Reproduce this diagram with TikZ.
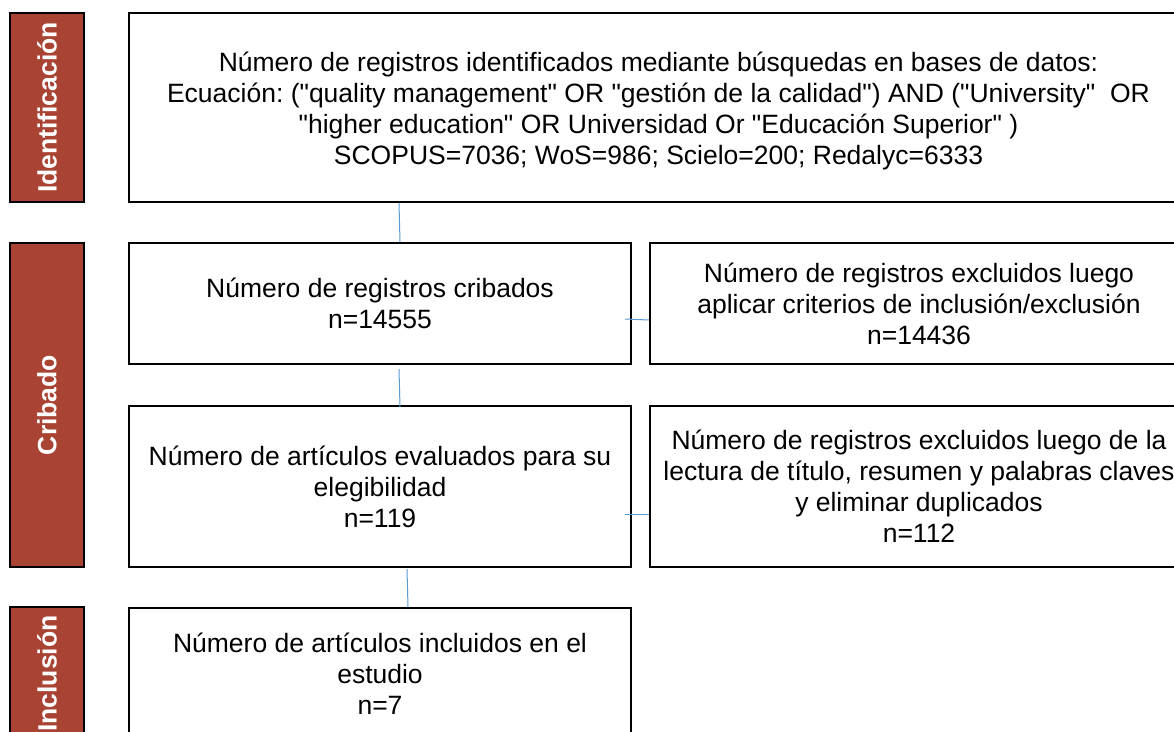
\documentclass[tikz,border=0pt]{standalone}
\usepackage{fontspec}
\setmainfont{Liberation Sans}[Ligatures=TeXOff]
\definecolor{barred}{HTML}{A94434}
\definecolor{linkblue}{HTML}{5B9BD5}
\frenchspacing
\begin{document}
\begin{tikzpicture}[x=1pt,y=-1pt,
  box/.style={draw=black, line width=2pt, fill=white, inner sep=0pt, align=center,
    font=\fontsize{26.5}{31}\selectfont},
  phase/.style={draw=black, line width=2pt, fill=barred, inner sep=0pt, minimum width=74pt},
  phasetext/.style={text=white, inner sep=0pt, font=\fontsize{26.5}{31}\selectfont\bfseries, rotate=90},
  link/.style={draw=linkblue, line width=1pt}]
\useasboundingbox (0,0) rectangle (1174,731);
\clip (0,0) rectangle (1174,731);
\fill[white] (0,0) rectangle (1174,731);

% phase bars
\node[phase, minimum height=189pt] (idbar) at (47,107.5) {};
\node[phase, minimum height=324pt] (cribbar) at (47,405) {};
\node[phase, minimum height=133pt] (inclbar) at (47,673.5) {};
\node[phasetext] (idlbl) at (idbar) {Identificación};
\node[phasetext] (criblbl) at (cribbar) {Cribado};
\node[phasetext] (incllbl) at (inclbar) {Inclusión};

% boxes
\node[box, minimum width=1059pt, minimum height=189pt] (top) at (658.5,107.5)
  {\rule{0pt}{27pt}Número de registros identificados mediante búsquedas en bases de datos:\\
   Ecuación: ("quality management" OR "gestión de la calidad") AND ("University"\ \ OR\\
   "higher education" OR Universidad Or "Educación Superior" )\\
   SCOPUS=7036; WoS=986; Scielo=200; Redalyc=6333};
\node[box, minimum width=502pt, minimum height=121pt] (crib) at (380,303.5)
  {Número de registros cribados\\ n=14555};
\node[box, minimum width=538pt, minimum height=121pt] (excl1) at (919,303.5)
  {Número de registros excluidos luego\\ aplicar criterios de inclusión/exclusión\\ n=14436};
\node[box, minimum width=502pt, minimum height=161pt] (eval) at (380,486.5)
  {Número de artículos evaluados para su\\ elegibilidad\\ n=119};
\node[box, minimum width=538pt, minimum height=161pt] (excl2) at (919,486.5)
  {Número de registros excluidos luego de la\\ lectura de título, resumen y palabras claves\\ y eliminar duplicados\\ n=112};
\node[box, minimum width=502pt, minimum height=132pt] (incl) at (380,674)
  {Número de artículos incluidos en el\\ estudio\\ n=7};

% connectors
\draw[link] ([xshift=-259.5pt]top.south) -- ([xshift=20pt]crib.north);
\draw[link] ([xshift=19pt,yshift=-4pt]crib.south) -- ([xshift=20pt,yshift=-2pt]eval.north);
\draw[link] ([xshift=27pt,yshift=-1pt]eval.south) -- ([xshift=28pt]incl.north);
\draw[link] ([xshift=-7pt,yshift=-15.5pt]crib.east) -- ([yshift=-16.5pt]excl1.west);
\draw[link] ([xshift=-7pt,yshift=-27.5pt]eval.east) -- ([yshift=-27.5pt]excl2.west);
\end{tikzpicture}
\end{document}
